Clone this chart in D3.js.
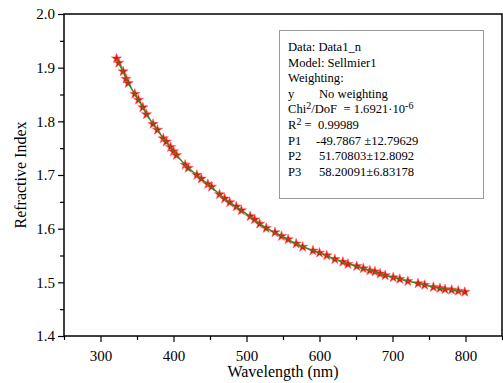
<!DOCTYPE html>
<html>
<head>
<meta charset="utf-8">
<script src="https://cdn.jsdelivr.net/npm/d3@7"></script>
<style>
  body { margin: 0; background: #fff; }
  svg, svg text { font-family: "Liberation Serif", "Times New Roman", "DejaVu Serif", serif; }
</style>
</head>
<body>
<svg width="503" height="383"></svg>
<script>
const wavelength = [322, 325, 331, 335, 338, 347, 352, 358, 363, 372, 378, 386, 390, 396, 400,
  404, 416, 420, 432, 438, 447, 452, 463, 470, 477, 486, 493, 505, 511, 518, 527, 539, 548,
  557, 568, 577, 591, 600, 610, 621, 632, 639, 651, 660, 669, 676, 683, 690, 701, 710, 721,
  735, 744, 756, 765, 772, 781, 790, 799];
const refIndex = [1.917, 1.909, 1.893, 1.879, 1.871, 1.851, 1.840, 1.826, 1.813, 1.795, 1.784,
  1.768, 1.762, 1.752, 1.744, 1.737, 1.719, 1.713, 1.700, 1.693, 1.683, 1.678, 1.664, 1.656,
  1.649, 1.641, 1.634, 1.623, 1.617, 1.609, 1.601, 1.593, 1.586, 1.580, 1.572, 1.566, 1.559,
  1.555, 1.550, 1.543, 1.538, 1.534, 1.530, 1.526, 1.522, 1.520, 1.516, 1.513, 1.509, 1.506,
  1.502, 1.498, 1.495, 1.491, 1.489, 1.487, 1.486, 1.484, 1.482];

const xTicks = [300, 400, 500, 600, 700, 800];
const xMinor = [250, 350, 450, 550, 650, 750, 850];
const yTicks = [1.4, 1.5, 1.6, 1.7, 1.8, 1.9, 2.0];
const yMinor = [1.45, 1.55, 1.65, 1.75, 1.85, 1.95];

const fitLabels = ['Data: Data1_n', 'Model: Sellmier1', 'Weighting:'];
const paramNames = ['P1', 'P2', 'P3'];
const paramValues = ['-49.7867 \u00b112.79629', '51.70803\u00b112.8092', '58.20091\u00b16.83178'];

const FONT = '"Liberation Serif", "Times New Roman", "DejaVu Serif", serif';

var svg = d3.select('svg');
var margin = { top: 14, right: 1, bottom: 47, left: 64 };
var width = +svg.attr('width') - margin.left - margin.right;
var height = +svg.attr('height') - margin.top - margin.bottom;

var g = svg.append('g')
    .attr('transform', 'translate(' + margin.left + ',' + margin.top + ')');

var xScale = d3.scaleLinear().domain([250, 850]).range([0, width]);
var yScale = d3.scaleLinear().domain([1.4, 2.0]).range([height, 0]);

// minor ticks first
g.append('g')
    .attr('transform', 'translate(0,' + height + ')')
    .call(d3.axisBottom(xScale).tickValues(xMinor).tickSize(4).tickFormat(''))
    .call(s => s.select('.domain').remove());
g.append('g')
    .call(d3.axisLeft(yScale).tickValues(yMinor).tickSize(4).tickFormat(''))
    .call(s => s.select('.domain').remove());

// major ticks
var xAxis = g.append('g')
    .attr('transform', 'translate(0,' + height + ')')
    .call(d3.axisBottom(xScale).tickValues(xTicks).tickSize(6).tickPadding(8).tickFormat(d3.format('d')));
xAxis.select('.domain').remove();

var yAxis = g.append('g')
    .call(d3.axisLeft(yScale).tickValues(yTicks).tickSize(6).tickPadding(3).tickFormat(d3.format('.1f')));
yAxis.select('.domain').remove();

g.selectAll('.tick text').attr('font-size', 15).style('font-family', FONT).attr('fill', '#000');
g.selectAll('.tick line').attr('stroke', '#000').attr('stroke-width', 1.2);

// frame
g.append('rect')
    .attr('width', width)
    .attr('height', height)
    .attr('fill', 'none')
    .attr('stroke', '#000')
    .attr('stroke-width', 1.5);

var pts = wavelength.map((w, i) => ({ w: w, n: refIndex[i] }));

// stars
g.append('g').selectAll('path')
    .data(pts)
    .join('path')
    .attr('transform', d => 'translate(' + xScale(d.w) + ',' + yScale(d.n) + ')')
    .attr('d', d3.symbol().type(d3.symbolStar).size(32))
    .attr('fill', '#ff0000')
    .attr('stroke', '#ff6060')
    .attr('stroke-width', 0.6);

// fit line
var line = d3.line()
    .x(d => xScale(d.w))
    .y(d => yScale(d.n))
    .curve(d3.curveBasis);

g.append('path')
    .datum(pts)
    .attr('fill', 'none')
    .attr('stroke', '#2e8b22')
    .attr('stroke-width', 1.5)
    .attr('d', line);

// axis titles
svg.append('text')
    .attr('x', margin.left + width / 2)
    .attr('y', 377)
    .attr('text-anchor', 'middle')
    .attr('font-size', 16)
    .style('font-family', FONT)
    .text('Wavelength (nm)');

svg.append('text')
    .attr('transform', 'translate(26,' + (margin.top + height / 2) + ') rotate(-90)')
    .attr('text-anchor', 'middle')
    .attr('font-size', 16)
    .style('font-family', FONT)
    .text('Refractive Index');

// fit results box
var box = svg.append('g').style('font-family', FONT);
box.append('rect')
    .attr('x', 279.5).attr('y', 30.5)
    .attr('width', 204).attr('height', 168)
    .attr('fill', '#fff')
    .attr('stroke', '#999')
    .attr('stroke-width', 1);

var tx = 288, vx = 319, lh = 15.6, base = 51;
var fs = 12.6, sup = 10;

function boxText(x, y) {
    return box.append('text').attr('x', x).attr('y', y).attr('font-size', fs).style('font-family', FONT);
}

fitLabels.forEach(function(t, i) {
    boxText(tx, base + i * lh).text(t);
});

boxText(tx, base + 3 * lh).text('y');
boxText(vx, base + 3 * lh).text('No weighting');

var chi = boxText(tx, base + 4 * lh);
chi.append('tspan').text('Chi');
chi.append('tspan').attr('dy', -4).attr('font-size', sup).text('2');
chi.append('tspan').attr('dy', 4).text('/DoF \u00a0= 1.6921\u00b710');
chi.append('tspan').attr('dy', -4).attr('font-size', sup).text('-6');

var r2 = boxText(tx, base + 5 * lh);
r2.append('tspan').text('R');
r2.append('tspan').attr('dy', -4).attr('font-size', sup).text('2');
r2.append('tspan').attr('dy', 4).text(' = \u00a00.99989');

paramNames.forEach(function(p, i) {
    var y = base + (6 + i) * lh;
    boxText(tx, y).text(p);
    boxText(i === 0 ? vx - 3 : vx, y).text(paramValues[i]);
});
</script>
</body>
</html>
